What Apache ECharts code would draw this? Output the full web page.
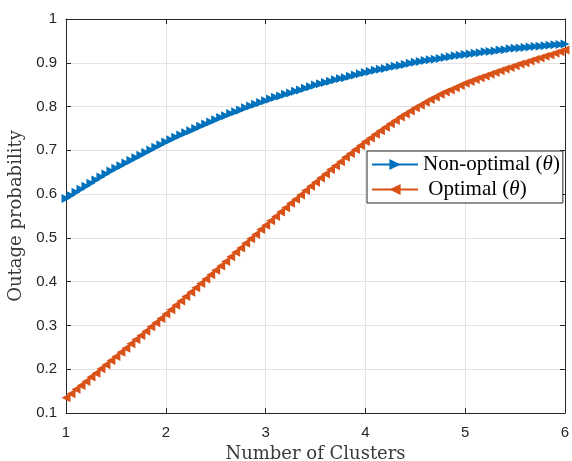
<!DOCTYPE html>
<html>
<head>
<meta charset="utf-8">
<script src="https://cdn.jsdelivr.net/npm/echarts@6/dist/echarts.min.js"></script>
<style>
html,body{margin:0;padding:0;background:#fff;}
#chart{width:572px;height:461px;}
</style>
</head>
<body>
<div id="chart"></div>
<script>
const xValues = [
1.00,1.05,1.10,1.15,1.20,1.25,1.30,1.35,1.40,1.45,
1.50,1.55,1.60,1.65,1.70,1.75,1.80,1.85,1.90,1.95,
2.00,2.05,2.10,2.15,2.20,2.25,2.30,2.35,2.40,2.45,
2.50,2.55,2.60,2.65,2.70,2.75,2.80,2.85,2.90,2.95,
3.00,3.05,3.10,3.15,3.20,3.25,3.30,3.35,3.40,3.45,
3.50,3.55,3.60,3.65,3.70,3.75,3.80,3.85,3.90,3.95,
4.00,4.05,4.10,4.15,4.20,4.25,4.30,4.35,4.40,4.45,
4.50,4.55,4.60,4.65,4.70,4.75,4.80,4.85,4.90,4.95,
5.00,5.05,5.10,5.15,5.20,5.25,5.30,5.35,5.40,5.45,
5.50,5.55,5.60,5.65,5.70,5.75,5.80,5.85,5.90,5.95,
6.00];

const nonOptimal = [
0.590,0.597,0.604,0.611,0.618,0.625,0.632,0.639,0.646,0.653,
0.659,0.665,0.671,0.677,0.683,0.689,0.695,0.701,0.707,0.713,
0.719,0.724,0.730,0.735,0.740,0.745,0.750,0.755,0.760,0.765,
0.770,0.775,0.779,0.784,0.788,0.792,0.797,0.801,0.805,0.809,
0.813,0.817,0.821,0.824,0.828,0.831,0.835,0.838,0.842,0.845,
0.849,0.852,0.855,0.858,0.861,0.864,0.866,0.869,0.872,0.875,
0.878,0.880,0.883,0.885,0.887,0.890,0.892,0.894,0.896,0.899,
0.901,0.903,0.905,0.907,0.908,0.910,0.912,0.914,0.916,0.917,
0.919,0.920,0.922,0.923,0.925,0.926,0.927,0.929,0.930,0.932,
0.933,0.934,0.935,0.936,0.937,0.938,0.939,0.940,0.941,0.942,
0.943];

const optimal = [
0.135,0.144,0.154,0.163,0.172,0.182,0.191,0.201,0.210,0.220,
0.229,0.239,0.248,0.258,0.268,0.277,0.287,0.297,0.306,0.316,
0.326,0.336,0.346,0.356,0.366,0.376,0.386,0.396,0.406,0.416,
0.426,0.436,0.446,0.457,0.467,0.477,0.488,0.498,0.508,0.519,
0.529,0.539,0.549,0.559,0.569,0.579,0.588,0.598,0.608,0.618,
0.627,0.637,0.646,0.656,0.665,0.674,0.684,0.693,0.702,0.711,
0.720,0.728,0.737,0.745,0.753,0.761,0.768,0.776,0.783,0.790,
0.797,0.803,0.810,0.816,0.822,0.828,0.833,0.838,0.843,0.848,
0.853,0.857,0.862,0.866,0.870,0.874,0.878,0.882,0.886,0.889,
0.893,0.897,0.900,0.904,0.908,0.911,0.915,0.918,0.922,0.925,
0.929];

const seriesNames = ['Non-optimal (θ)', 'Optimal (θ)'];
const xTitle = 'Number of Clusters';
const yTitle = 'Outage probability';

const pairs = (ys) => xValues.map((x, i) => [x, ys[i]]);

const AX = '#262626';
const GRIDC = '#e3e3e3';
const SERIF = "'Liberation Serif', 'Times New Roman', serif";
const TSERIF = "'DejaVu Serif', serif";
const SANS = "'Liberation Sans', Arial, sans-serif";

const chart = echarts.init(document.getElementById('chart'), null, {renderer: 'canvas'});

const baseX = {
  type: 'value', min: 1, max: 6, interval: 1,
  axisLine: {show: true, onZero: false, lineStyle: {color: AX, width: 1}},
  axisTick: {show: true, inside: true, length: 5, lineStyle: {color: AX}},
};
const baseY = {
  type: 'value', min: 0.1, max: 1, interval: 0.1,
  axisLine: {show: true, onZero: false, lineStyle: {color: AX, width: 1}},
  axisTick: {show: true, inside: true, length: 5, lineStyle: {color: AX}},
};

chart.setOption({
  animation: false,
  backgroundColor: '#fff',
  grid: {left: 66, right: 7, top: 19, bottom: 48, containLabel: false, outerBoundsMode: 'none'},
  xAxis: [
    Object.assign({}, baseX, {
      position: 'bottom',
      name: xTitle, nameLocation: 'middle', nameGap: 23,
      nameTextStyle: {fontFamily: TSERIF, fontSize: 18, color: '#3a3a3a'},
      axisLabel: {show: true, margin: 12, fontFamily: SANS, fontSize: 15, color: AX},
      splitLine: {show: true, lineStyle: {color: GRIDC, width: 1}}
    }),
    Object.assign({}, baseX, {
      position: 'top',
      axisLabel: {show: false},
      splitLine: {show: false}
    })
  ],
  yAxis: [
    Object.assign({}, baseY, {
      position: 'left',
      name: yTitle, nameLocation: 'middle', nameGap: 35, nameRotate: 90,
      nameTextStyle: {fontFamily: TSERIF, fontSize: 18, color: '#3a3a3a'},
      axisLabel: {show: true, margin: 9, fontFamily: SANS, fontSize: 15, color: AX,
        formatter: (v) => String(Math.round(v * 10) / 10)},
      splitLine: {show: true, lineStyle: {color: GRIDC, width: 1}}
    }),
    Object.assign({}, baseY, {
      position: 'right',
      axisLabel: {show: false},
      splitLine: {show: false}
    })
  ],
  legend: {
    orient: 'vertical',
    left: 367, top: 151,
    padding: [3, 3, 3, 4],
    itemGap: 4,
    itemWidth: 46, itemHeight: 14,
    borderColor: AX, borderWidth: 1, borderRadius: 0,
    backgroundColor: '#fff',
    data: seriesNames,
    formatter: (name) => name === seriesNames[0]
      ? '{a|Non-optimal (}{i|θ}{a|)}'
      : '{a| Optimal (}{i|θ}{a|)}',
    textStyle: {
      fontFamily: SERIF, fontSize: 21, color: '#000', lineHeight: 21,
      rich: {
        a: {fontFamily: SERIF, fontSize: 21, color: '#000', lineHeight: 21},
        i: {fontFamily: SERIF, fontSize: 21, color: '#000', fontStyle: 'italic', lineHeight: 21}
      }
    }
  },
  series: [
    {
      name: seriesNames[0], type: 'line', xAxisIndex: 0, yAxisIndex: 0,
      data: pairs(nonOptimal),
      symbol: 'path://M0,0L10,5L0,10Z', symbolSize: 9, showSymbol: true,
      color: '#0072BD',
      lineStyle: {color: '#0072BD', width: 2.5},
      itemStyle: {color: '#0072BD'},
      z: 2
    },
    {
      name: seriesNames[1], type: 'line', xAxisIndex: 0, yAxisIndex: 0,
      data: pairs(optimal),
      symbol: 'path://M10,0L0,5L10,10Z', symbolSize: 9, showSymbol: true,
      color: '#D95319',
      lineStyle: {color: '#D95319', width: 2.5},
      itemStyle: {color: '#D95319'},
      z: 3
    }
  ]
});
</script>
</body>
</html>
